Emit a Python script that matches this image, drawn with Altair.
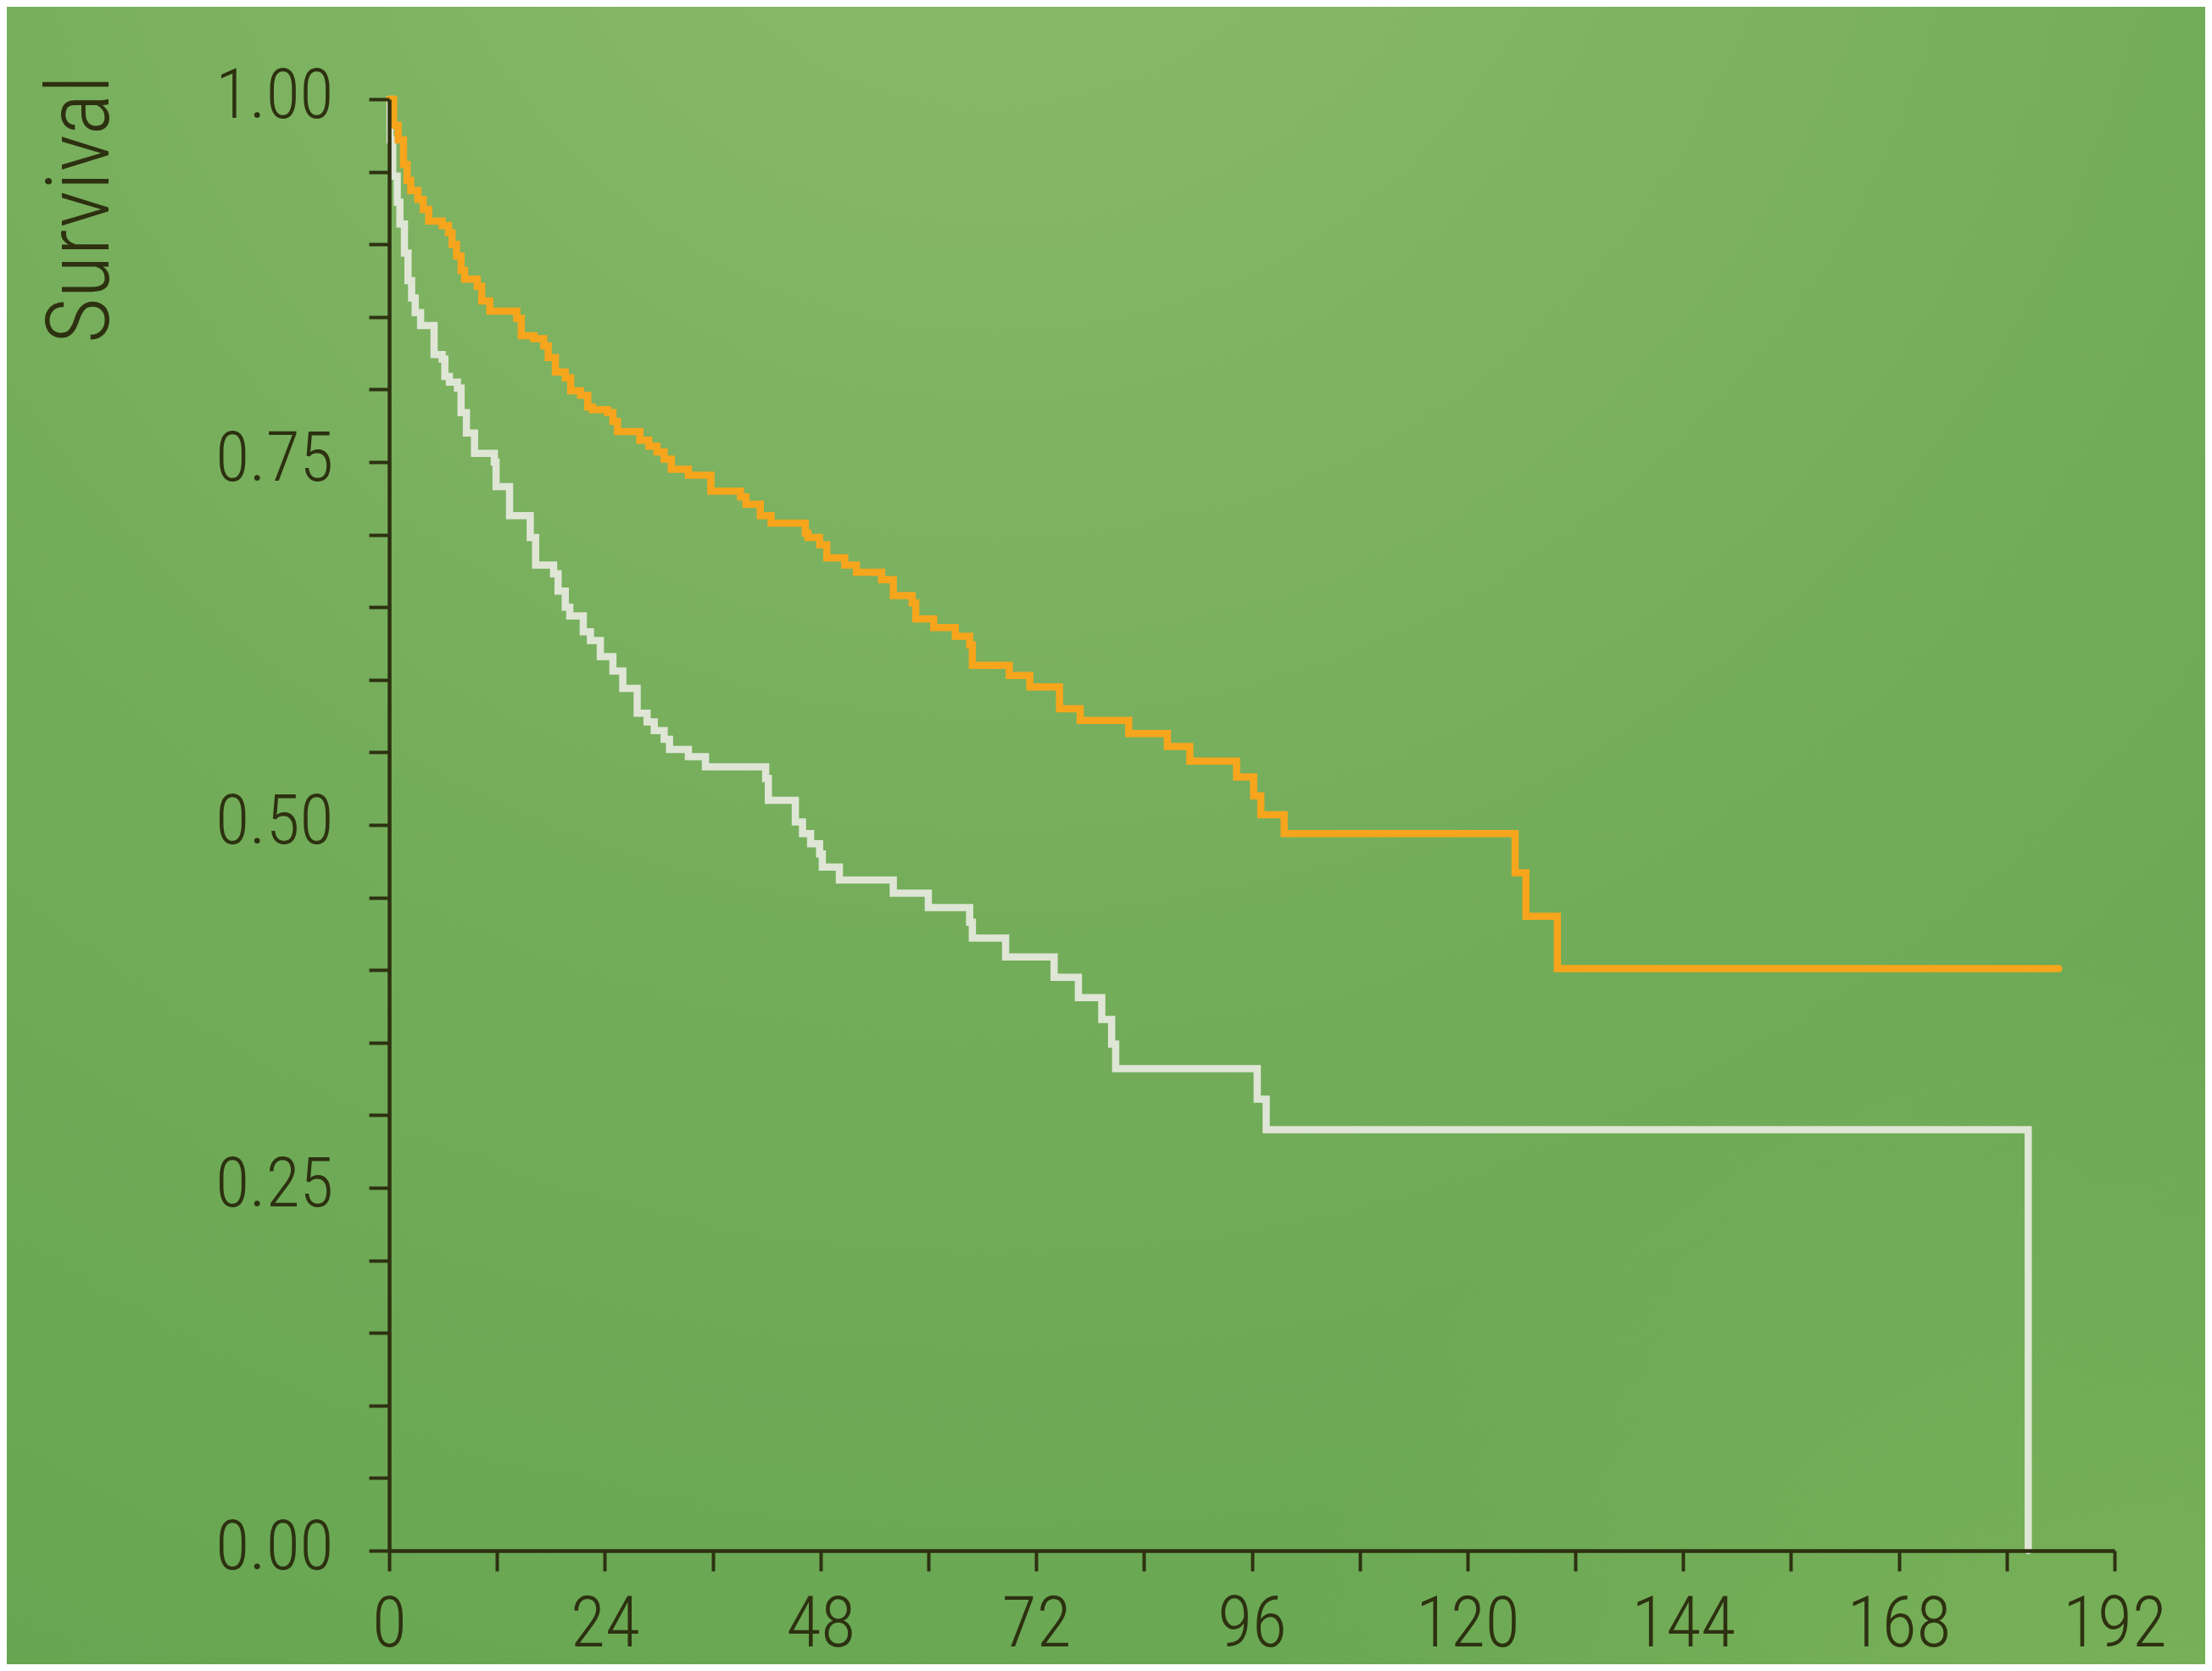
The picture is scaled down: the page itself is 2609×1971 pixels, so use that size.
import altair as alt
import pandas as pd

# ---- data (months, survival probability; step-after) ----
orange_month = [0, 0.5, 1.0, 1.6, 2.0, 2.4, 3.2, 3.8, 4.4, 5.9, 6.6, 7.0, 7.5, 8.0, 8.4,
                9.8, 10.3, 11.2, 14.2, 14.7, 16.1, 17.2, 17.7, 18.5, 19.6, 20.2, 21.3,
                22.1, 22.6, 24.3, 24.9, 25.4, 27.9, 28.9, 29.8, 30.6, 31.4, 33.3, 35.8,
                39.1, 39.7, 41.3, 42.5, 46.3, 46.6, 47.9, 48.7, 50.7, 52.0, 54.8, 56.1,
                58.2, 58.6, 60.6, 63.0, 64.6, 64.9, 69.0, 71.3, 74.6, 76.9, 82.3, 86.6,
                89.1, 94.3, 96.2, 97.0, 99.6, 125.3, 126.5, 130.0, 185.8]
orange_surv = [1.0, 0.982, 0.972, 0.955, 0.944, 0.937, 0.931, 0.924, 0.916, 0.913, 0.908,
               0.900, 0.892, 0.882, 0.876, 0.871, 0.861, 0.854, 0.849, 0.837, 0.835, 0.830,
               0.822, 0.812, 0.808, 0.799, 0.796, 0.788, 0.786, 0.784, 0.778, 0.771, 0.765,
               0.761, 0.757, 0.752, 0.745, 0.741, 0.730, 0.726, 0.721, 0.713, 0.708, 0.701,
               0.698, 0.693, 0.684, 0.679, 0.674, 0.669, 0.658, 0.653, 0.642, 0.636, 0.630,
               0.624, 0.610, 0.603, 0.595, 0.580, 0.572, 0.563, 0.554, 0.544, 0.533, 0.520,
               0.507, 0.494, 0.467, 0.437, 0.401, 0.401]

white_month = [0, 0.1, 0.4, 0.9, 1.2, 1.7, 2.1, 2.5, 2.9, 3.5, 5.0, 5.9, 6.2, 6.7, 7.6,
               8.0, 8.6, 9.5, 11.7, 11.9, 13.4, 15.7, 16.3, 18.3, 18.8, 19.6, 20.1, 21.6,
               22.4, 23.5, 24.9, 26.0, 27.6, 28.7, 29.5, 30.6, 31.2, 33.3, 35.2, 41.9,
               42.2, 45.2, 46.0, 46.9, 47.9, 48.2, 50.1, 56.1, 60.0, 64.6, 64.9, 68.6,
               74.0, 76.7, 79.3, 80.4, 80.85, 96.6, 97.6, 182.4]
white_surv = [1.0, 0.972, 0.947, 0.929, 0.914, 0.894, 0.875, 0.863, 0.853, 0.844, 0.824,
              0.821, 0.809, 0.805, 0.801, 0.784, 0.770, 0.756, 0.750, 0.733, 0.713, 0.698,
              0.679, 0.673, 0.661, 0.650, 0.644, 0.633, 0.627, 0.616, 0.606, 0.594, 0.577,
              0.571, 0.565, 0.559, 0.552, 0.547, 0.540, 0.532, 0.517, 0.502, 0.494, 0.487,
              0.480, 0.471, 0.462, 0.453, 0.443, 0.433, 0.422, 0.409, 0.395, 0.381, 0.366,
              0.349, 0.332, 0.311, 0.290, 0.0]

x_ticks = list(range(0, 193, 12))
y_ticks = [round(i * 0.05, 2) for i in range(21)]

df_orange = pd.DataFrame({"month": orange_month, "survival": orange_surv})
df_white = pd.DataFrame({"month": white_month, "survival": white_surv})

W, H = 2035, 1712
PL, PT, PR, PB = 451, 109, 107, 134
INK = "#2d3110"
FONT = "Roboto Condensed, DejaVu Sans Condensed, sans-serif"

x_enc = alt.X(
    "month:Q",
    scale=alt.Scale(domain=[0, 192], nice=False, zero=False),
    axis=alt.Axis(
        values=x_ticks,
        labelExpr="datum.value % 24 == 0 ? datum.label : ''",
        title=None,
        labelPadding=22,
        labelFontSize=84,
        labelFlush=False,
        labelOverlap=False,
        labelBound=False,
        zindex=1,
    ),
)
y_enc = alt.Y(
    "survival:Q",
    scale=alt.Scale(domain=[0, 1], nice=False),
    axis=alt.Axis(
        values=y_ticks,
        format=".2f",
        labelExpr="(datum.value == 0 || datum.value == 0.25 || datum.value == 0.5 || datum.value == 0.75 || datum.value == 1) ? datum.label : ''",
        title="Survival",
        titleAngle=270,
        titleAlign="right",
        titleBaseline="alphabetic",
        titleX=-332,
        titleY=-29,
        titleFontSize=104,
        titleFontWeight=300,
        titleColor=INK,
        titleFont=FONT,
        labelPadding=42,
        labelOffset=-4,
        labelFontSize=82,
        labelOverlap=False,
        labelBound=False,
        labelFlush=False,
        zindex=1,
    ),
)

bg = alt.Chart(alt.Data(values=[{}])).mark_rect(
    color=alt.Gradient(
        gradient="radial",
        stops=[
            alt.GradientStop(offset=0, color="#8dbb6c"),
            alt.GradientStop(offset=0.5, color="#74ad5a"),
            alt.GradientStop(offset=1, color="#63a44f"),
        ],
        x1=0.45, y1=0.0, r1=0,
        x2=0.45, y2=0.0, r2=1.1,
    )
).encode(
    x=alt.value(-PL), x2=alt.value(W + PR),
    y=alt.value(-PT), y2=alt.value(H + PB),
)

glow = alt.Chart(alt.Data(values=[{}])).mark_rect(
    color=alt.Gradient(
        gradient="radial",
        stops=[
            alt.GradientStop(offset=0, color="rgba(130,182,92,0.85)"),
            alt.GradientStop(offset=1, color="rgba(130,182,92,0)"),
        ],
        x1=1.0, y1=1.0, r1=0,
        x2=1.0, y2=1.0, r2=0.45,
    )
).encode(
    x=alt.value(-PL), x2=alt.value(W + PR),
    y=alt.value(-PT), y2=alt.value(H + PB),
)

white = alt.Chart(df_white).mark_line(
    interpolate="step-after", color="#dfe6d6", strokeWidth=8.5, strokeCap="round"
).encode(x=x_enc, y=y_enc)

orange = alt.Chart(df_orange).mark_line(
    interpolate="step-after", color="#f7a51c", strokeWidth=8.5, strokeCap="round"
).encode(x=x_enc, y=y_enc)

chart = alt.layer(bg, glow, white, orange).properties(
    width=W, height=H,
    autosize=alt.AutoSizeParams(type="none"),
    padding={"left": PL, "top": PT, "right": PR, "bottom": PB},
    background="#74ad57",
).configure_view(stroke=None).configure_axis(
    grid=False,
    domainColor=INK, domainWidth=4.5,
    tickColor=INK, tickWidth=4, tickSize=24,
    labelColor=INK, labelFont=FONT, labelFontWeight=300,
)

chart.save("out.html", embed_options={"renderer": "svg", "actions": False})
